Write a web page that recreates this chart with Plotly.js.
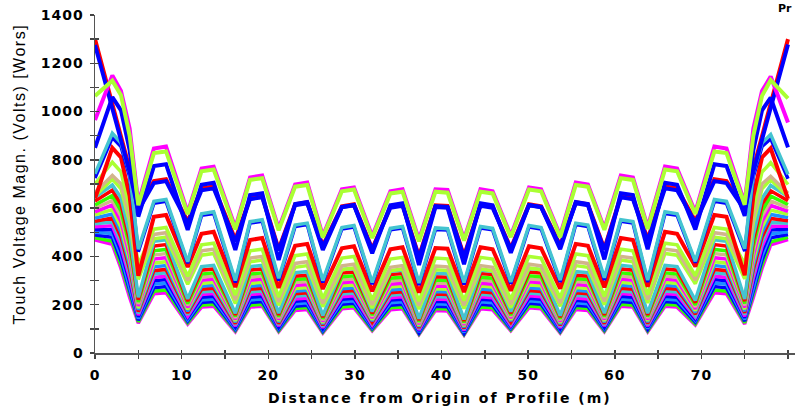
<!DOCTYPE html>
<html>
<head>
<meta charset="utf-8">
<script src="https://cdn.plot.ly/plotly-3.0.1.min.js"></script>
<style>
html,body{margin:0;padding:0;overflow:hidden;background:#fff;}
#chart{width:795px;height:407px;}
.xtick text,.ytick text{letter-spacing:1px;}
</style>
</head>
<body>
<div id="chart"></div>
<script>
// Distance along profile (m) at each sampled vertex
const distance = [0,2,3,4,5, 6.8,8.2,10.7, 12.3,13.7,16.2, 17.9,19.3,21.2, 23.1,24.5,26.3, 28.5,29.9,32.0, 34.1,35.5,37.4, 39.3,40.7,42.6, 44.5,45.9,48.0, 50.1,51.5,53.7, 55.5,56.9,58.8, 60.7,62.1,63.8, 65.8,67.2,69.3, 71.5,72.9,75.0, 76,77,78,80];

// Touch voltage profiles (Volts)
const pM1  = [965,1150,1085,930,620, 847,855,582, 764,772,520, 727,735,515, 698,706,485, 678,686,484, 670,678,470, 678,675,472, 678,670,486, 686,678,487, 706,698,516, 735,727,522, 772,764,584, 855,847,622, 930,1085,1145,955];
const pYG1 = [1065,1128,1068,900,612, 828,835,575, 753,760,512, 717,724,508, 689,696,478, 670,677,476, 661,668,462, 668,664,466, 668,661,480, 677,670,480, 696,689,510, 724,717,514, 760,753,576, 835,828,614, 900,1065,1130,1055];
const pRedge = [1300,1030,895,762,600, 712,720,545, 682,690,470, 642,650,430, 616,624,445, 608,616,432, 606,614,400, 612,609,402, 614,606,434, 616,608,447, 624,616,432, 650,642,472, 690,682,547, 720,712,602, 765,897,1030,1300];
const pBedge = [1276,1010,880,750,590, 704,712,538, 674,682,462, 637,645,425, 612,620,440, 604,612,428, 602,610,395, 608,605,397, 610,602,430, 612,604,442, 620,612,427, 645,637,464, 682,674,540, 712,704,592, 752,882,1012,1278];
const pB1  = [850,1060,1005,840,565, 774,782,510, 697,705,427, 654,662,385, 617,625,427, 605,613,413, 612,620,365, 605,602,368, 620,612,415, 613,605,430, 625,617,388, 662,654,430, 705,697,512, 782,774,568, 840,1005,1058,852];
const pB3  = [725,892,855,730,420, 620,628,372, 570,578,292, 538,546,300, 524,532,292, 514,522,285, 510,518,282, 512,509,284, 518,510,287, 522,514,294, 532,524,302, 546,538,294, 578,570,374, 628,620,422, 730,855,888,722];
const pC1  = [742,910,870,745,430, 628,636,378, 577,585,300, 544,552,310, 530,538,300, 520,528,292, 516,524,290, 518,515,292, 524,516,294, 528,520,302, 538,530,312, 552,544,302, 585,577,380, 636,628,432, 745,870,905,740];
const pR2  = [640,850,810,650,320, 564,572,356, 494,502,273, 468,476,270, 444,452,265, 434,442,256, 430,438,250, 435,432,252, 438,430,258, 442,434,267, 452,444,272, 476,468,275, 502,494,358, 572,564,322, 650,810,848,638];
const pYG2 = [700,790,750,600,365, 513,520,318, 448,455,240, 423,430,232, 403,410,226, 393,400,220, 389,396,215, 393,390,217, 396,389,222, 400,393,228, 410,403,234, 430,423,242, 455,448,320, 520,513,367, 600,750,788,698];
const pT1  = [665,735,700,560,330, 491,498,300, 423,430,220, 393,400,212, 371,378,205, 361,368,200, 355,362,196, 360,357,198, 362,355,202, 368,361,207, 378,371,214, 400,393,222, 430,423,302, 498,491,332, 560,700,732,662];
const pYG3 = [650,720,680,540,305, 473,480,285, 405,412,205, 378,385,198, 355,362,192, 345,352,186, 341,348,182, 345,342,184, 348,341,188, 352,345,194, 362,355,200, 385,378,207, 412,405,287, 480,473,307, 540,680,718,648];
const pD1  = [645,696,643,492,231, 463,469,224, 358,363,165, 358,363,165, 333,337,155, 346,350,172, 339,343,142, 330,328,139, 343,339,172, 350,346,155, 337,333,165, 363,358,165, 363,358,218, 469,463,224, 490,640,694,648];
const pD2  = [629,674,616,468,221, 443,449,215, 343,348,158, 343,348,158, 318,322,149, 331,335,164, 325,329,136, 316,314,133, 329,325,164, 335,331,149, 322,318,158, 348,343,158, 348,343,209, 449,443,215, 468,616,672,631];
const pD3  = [613,652,589,444,211, 423,429,205, 327,332,151, 327,332,151, 304,308,142, 316,320,157, 310,314,130, 302,300,127, 314,310,157, 320,316,142, 308,304,151, 332,327,151, 332,327,199, 429,423,205, 444,589,650,615];
const pD4  = [599,632,567,424,203, 406,412,197, 314,319,145, 314,319,145, 292,296,136, 303,307,151, 298,302,125, 290,288,122, 302,298,151, 307,303,136, 296,292,145, 319,314,145, 319,314,191, 412,406,197, 424,567,630,601];
const pD5  = [585,613,544,403,195, 389,395,189, 301,306,139, 301,306,139, 280,284,131, 291,295,145, 285,289,120, 278,276,117, 289,285,145, 295,291,131, 284,280,139, 306,301,139, 306,301,183, 395,389,189, 403,544,611,587];
const pD6  = [572,594,521,383,186, 372,378,181, 288,293,133, 288,293,133, 267,271,125, 278,282,138, 273,277,114, 266,264,112, 277,273,138, 282,278,125, 271,267,133, 293,288,133, 293,288,176, 378,372,181, 383,521,592,574];
const pD7  = [559,576,500,364,179, 357,362,173, 276,281,128, 276,281,128, 256,260,120, 266,270,133, 261,265,110, 255,253,107, 265,261,133, 270,266,120, 260,256,128, 281,276,128, 281,276,168, 362,357,173, 364,500,574,561];
const pD8  = [546,559,479,346,171, 341,346,166, 264,268,122, 264,268,122, 245,249,115, 255,259,127, 250,254,105, 244,242,102, 254,250,127, 259,255,115, 249,245,122, 268,264,122, 268,264,161, 346,341,166, 346,479,557,548];
const pD9  = [535,543,460,329,164, 327,332,159, 253,257,117, 253,257,117, 235,239,110, 244,248,122, 239,243,101, 234,232,98, 243,239,122, 248,244,110, 239,235,117, 257,253,117, 257,253,154, 332,327,159, 329,460,541,537];
const pD10 = [523,527,441,312,157, 313,318,152, 242,246,112, 242,246,112, 224,228,105, 233,237,116, 229,233,96, 224,222,94, 233,229,116, 237,233,105, 228,224,112, 246,242,112, 246,242,148, 318,313,152, 312,441,525,525];
const pD11 = [512,511,422,295,150, 299,304,146, 231,235,107, 231,235,107, 214,218,101, 223,227,111, 219,223,92, 214,212,90, 223,219,111, 227,223,101, 218,214,107, 235,231,107, 235,231,141, 304,299,146, 295,422,509,514];
const pD12 = [500,495,403,278,143, 285,290,139, 220,224,102, 220,224,102, 204,208,96, 212,216,106, 208,212,88, 204,202,86, 212,208,106, 216,212,96, 208,204,102, 224,220,102, 224,220,135, 290,285,139, 278,403,493,502];
const pD13 = [489,479,384,261,136, 270,275,132, 209,213,97, 209,213,97, 194,198,91, 202,206,101, 198,202,83, 194,192,81, 202,198,101, 206,202,91, 198,194,97, 213,209,97, 213,209,128, 275,270,132, 261,384,477,491];
const pD14 = [477,463,365,244,129, 256,261,125, 198,202,92, 198,202,92, 184,188,86, 191,195,96, 187,191,79, 184,182,77, 191,187,96, 195,191,86, 188,184,92, 202,198,92, 202,198,121, 261,256,125, 244,365,461,479];
const pD15 = [468,450,350,230,123, 245,250,120, 190,194,88, 190,194,88, 176,180,83, 183,187,92, 179,183,76, 176,174,74, 183,179,92, 187,183,83, 180,176,88, 194,190,88, 194,190,116, 250,245,120, 230,350,448,470];

const xTickVals = [0,10,20,30,40,50,60,70,80];
const yTickVals = [0,200,400,600,800,1000,1200,1400];
const xTitle = 'Distance from Origin of Profile (m)';
const yTitle = 'Touch Voltage Magn. (Volts) [Wors]';
const cornerText = 'Pr';

// drawing order (first = bottom) with styles
const C = {red:'#ff0000', blue:'#0000ff', mag:'#ff00ff', yg:'#aaff33', grn:'#33ff00', cyan:'#44c4d0', tan:'#d2b48c', lblue:'#1e90ff'};
const series = [
  [pD15,C.mag,3.5],[pD14,C.grn,3.5],[pD13,C.blue,3.5],[pD12,C.lblue,3.5],[pD11,C.blue,3.5],
  [pD10,C.mag,3.5],[pD9,C.cyan,3.5],[pD8,C.red,3.5],[pD7,C.lblue,3.5],[pD6,C.yg,3.5],
  [pD5,C.mag,3.5],[pD4,C.tan,3.5],[pD3,C.grn,3.5],[pD2,C.red,3.5],[pD1,C.cyan,3.5],
  [pYG3,C.yg,3.5],[pT1,C.tan,3.5],[pYG2,C.yg,3.5],[pR2,C.red,4],
  [pB3,C.blue,3.5],[pC1,C.cyan,3.5],[pRedge,C.red,4],[pBedge,C.blue,4],[pB1,C.blue,4],
  [pM1,C.mag,4],[pYG1,C.yg,4]
];

const traces = series.map(s => ({
  x: distance, y: s[0], type:'scatter', mode:'lines',
  line:{color:s[1], width:s[2]}, hoverinfo:'skip'
}));
traces.push({x:[], y:[], xaxis:'x2', yaxis:'y2', type:'scatter', mode:'lines'});

const W=795, H=407, L=95, T=15, B=54;
const plotW = W-L, plotH = H-T-B;
const xMax = 80*plotW/693;
const tickFont = {family:'DejaVu Sans', size:14, weight:'bold', color:'#000'};

const layout = {
  width:W, height:H,
  margin:{l:L, r:0, t:T, b:B, pad:0},
  paper_bgcolor:'#fff', plot_bgcolor:'#fff',
  showlegend:false,
  xaxis:{range:[0,xMax], tickvals:xTickVals, ticktext:xTickVals.map(String),
    ticks:'outside', ticklen:4, tickwidth:1.5, tickcolor:'#444',
    minor:{dtick:5, tick0:0, ticks:'outside', ticklen:4, tickwidth:1.5, tickcolor:'#444'},
    showline:true, linecolor:'#555', linewidth:1.5, showgrid:false, zeroline:false,
    tickfont:tickFont, ticklabelstandoff:5},
  yaxis:{range:[0,1400], tickvals:yTickVals, ticktext:yTickVals.map(String),
    ticks:'outside', ticklen:4, tickwidth:1.5, tickcolor:'#444',
    minor:{dtick:100, tick0:0, ticks:'outside', ticklen:4, tickwidth:1.5, tickcolor:'#444'},
    showline:true, linecolor:'#555', linewidth:1.5, showgrid:false, zeroline:false,
    tickfont:tickFont, ticklabelstandoff:3},
  xaxis2:{overlaying:'x', anchor:'y2', side:'bottom', range:[0,xMax], dtick:5, tick0:0,
    ticks:'inside', ticklen:3, tickwidth:1.5, tickcolor:'#444', showticklabels:false,
    showline:false, showgrid:false, zeroline:false},
  yaxis2:{overlaying:'y', anchor:'x2', side:'left', range:[0,1400], dtick:100, tick0:0,
    ticks:'inside', ticklen:4, tickwidth:1.5, tickcolor:'#444', showticklabels:false,
    showline:false, showgrid:false, zeroline:false},
  annotations:[
    {text:'<span style="letter-spacing:2px">'+xTitle+'</span>', xref:'paper', yref:'paper',
     x:(440-L)/plotW, y:(H-B-398)/plotH, xanchor:'center', yanchor:'middle', showarrow:false,
     font:{family:'DejaVu Sans', size:14, weight:'bold', color:'#000'}},
    {text:'<span style="letter-spacing:1.5px">'+yTitle+'</span>', xref:'paper', yref:'paper',
     x:(18.5-L)/plotW, y:(H-B-174)/plotH, xanchor:'center', yanchor:'middle', showarrow:false,
     textangle:-90, font:{family:'Liberation Sans', size:16, color:'#000'}},
    {text:cornerText, xref:'paper', yref:'paper', x:(794-L)/plotW, y:(H-B-9)/plotH,
     xanchor:'right', yanchor:'middle', showarrow:false,
     font:{family:'DejaVu Sans', size:11, weight:'bold', color:'#000'}}
  ]
};

Plotly.newPlot('chart', traces, layout, {staticPlot:true, displayModeBar:false});
</script>
</body>
</html>
